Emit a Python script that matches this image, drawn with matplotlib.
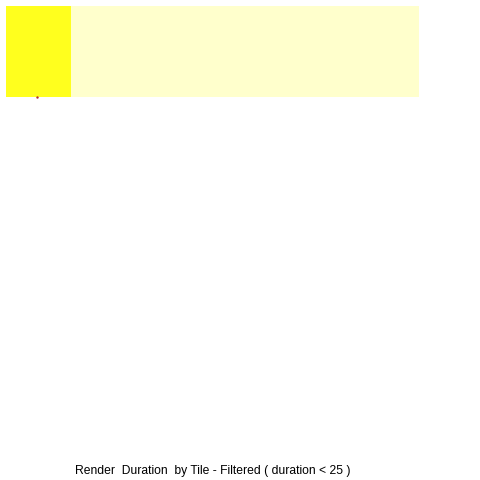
"""
Render duration by tile, drawn as a one-row treemap strip
"""
import matplotlib
matplotlib.use('Agg')
import matplotlib.pyplot as plt
import numpy as np

plt.rcParams['font.family'] = ['Liberation Sans', 'DejaVu Sans']

# tile data (area proportional to duration)
tiles = ['tile_1', 'tile_2']
durations = [6.5, 34.8]
tile_colors = ['#ffff1e', '#ffffcc']
title = 'Render  Duration  by Tile - Filtered ( duration < 25 )'

fig = plt.figure(figsize=(4.8, 4.8), dpi=100)
# strip placed near top of the figure
ax = fig.add_axes([6 / 480, 1 - 97 / 480, 413 / 480, 91 / 480])

lefts = np.concatenate([[0], np.cumsum(durations)[:-1]])
ax.barh([0] * len(tiles), durations, left=lefts, height=1.0,
        color=tile_colors, edgecolor='none', align='edge')

# tiny marker under first tile
ax.plot([lefts[0] + durations[0] / 2 - 0.2], [0], marker='s', markersize=0.7,
        color='#b03030', clip_on=False, linestyle='none')

ax.set_xlim(0, sum(durations))
ax.set_ylim(0, 1)
ax.axis('off')

fig.text(213 / 480, 1 - 471 / 480, title, ha='center', va='center', fontsize=8.7)

plt.savefig('out.png', dpi=100)
plt.close()
